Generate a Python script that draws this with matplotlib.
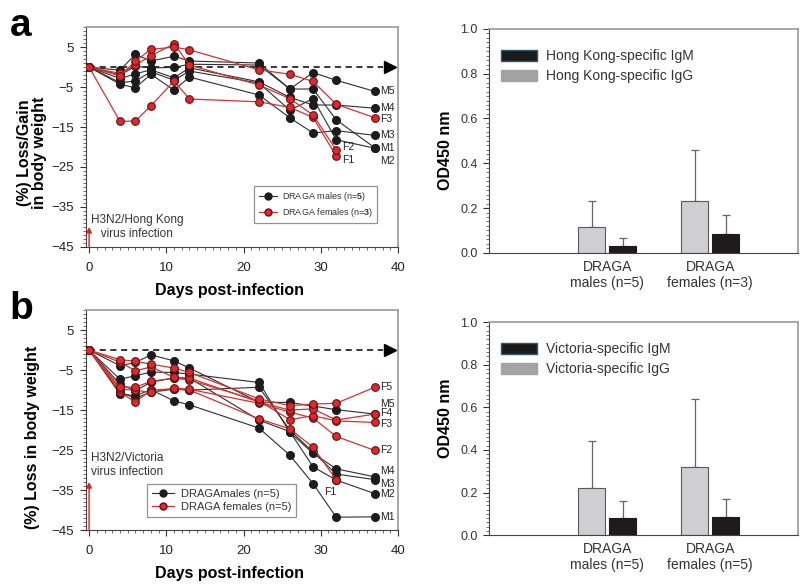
import numpy as np
import matplotlib
matplotlib.use("Agg")
import matplotlib.pyplot as plt
from matplotlib.patches import Patch
from matplotlib.lines import Line2D
from matplotlib.ticker import MultipleLocator

plt.rcParams['font.family'] = ['Liberation Sans', 'DejaVu Sans']
plt.rcParams['mathtext.fontset'] = 'custom'
plt.rcParams['mathtext.bf'] = 'Liberation Sans:bold'
plt.rcParams['mathtext.rm'] = 'Liberation Sans'

days = [0, 4, 6, 8, 11, 13, 22, 26, 29, 32, 37]
nan = np.nan

# panel a: H3N2/Hong Kong, % loss/gain in body weight
hk_males = {
    "M1": [0, -2.0, 0.2, -0.2, -0.1, 0.7, 0.5, -5.5, -5.5, -13.2, -20.2],
    "M2": [0, -3.9, -3.5, -1.2, -3.3, -1.0, -4.0, -10.8, -7.9, -18.2, -20.3],
    "M3": [0, -4.3, -5.2, -1.8, -5.8, -2.5, -7.0, -12.7, -16.5, -15.9, -17.1],
    "M4": [0, -2.9, -1.7, -0.7, -2.7, -0.2, -3.7, -7.6, -9.5, -9.5, -10.3],
    "M5": [0, -0.8, 3.2, 1.5, 2.7, 1.5, 1.0, -5.5, -1.4, -3.3, -6.1],
}
hk_females = {
    "F1": [0, -13.6, -13.5, -9.7, -3.5, -8.0, -8.7, -10.1, -12.6, -22.3, nan],
    "F2": [0, -1.6, 0.5, 2.8, 5.8, 0.5, -4.5, -7.9, -12.0, -20.7, nan],
    "F3": [0, -2.2, 1.5, 4.4, 5.0, 4.3, -0.7, -1.8, -3.6, -9.3, -12.7],
}

# panel b: H3N2/Victoria, % loss in body weight
vic_males = {
    "M1": [0, -11.0, -11.4, -9.9, -12.7, -13.7, -19.5, -26.3, -33.4, -41.8, -41.7],
    "M2": [0, -8.5, -10.2, -8.0, -7.0, -7.0, -17.5, -20.4, -29.2, -32.5, -35.9],
    "M3": [0, -10.5, -12.0, -10.5, -9.8, -10.0, -9.3, -20.0, -25.5, -31.0, -32.4],
    "M4": [0, -7.3, -6.4, -5.5, -5.6, -6.0, -8.1, -20.6, -25.8, -29.7, -31.7],
    "M5": [0, -3.9, -3.1, -1.2, -2.7, -4.5, -13.0, -13.1, -14.0, -14.9, -16.0],
}
vic_females = {
    "F1": [0, -10.5, -13.0, -10.0, -9.7, -10.0, -17.2, -19.7, -24.3, -32.4, nan],
    "F2": [0, -9.8, -10.0, -10.6, -9.5, -9.8, -13.3, -15.5, -17.0, -21.6, -25.1],
    "F3": [0, -9.2, -9.3, -7.8, -7.0, -7.5, -12.7, -17.4, -16.4, -17.7, -18.1],
    "F4": [0, -3.0, -5.2, -4.2, -6.8, -7.0, -13.0, -15.0, -14.7, -17.5, -16.0],
    "F5": [0, -2.4, -2.8, -3.5, -4.5, -5.6, -12.2, -13.9, -13.5, -13.3, -9.3],
}

# label offsets (points) for the end-of-line tags
hk_tag_offsets = {"M1": (4, 0), "M2": (4, -9), "M3": (4, 0), "M4": (4, 0), "M5": (4, 0),
                  "F1": (4, -3), "F2": (4, 2), "F3": (4, -1)}
vic_tag_offsets = {"M1": (4, 0), "M2": (4, 0), "M3": (4, -3), "M4": (4, 4), "M5": (4, 7),
                   "F1": (-4, -9), "F2": (4, 0), "F3": (4, -1), "F4": (4, 0.5), "F5": (4, 0)}

# ELISA bars
groups_a = ["DRAGA\nmales (n=5)", "DRAGA\nfemales (n=3)"]
hk_igg = [0.115, 0.23]
hk_igg_err = [0.115, 0.23]
hk_igm = [0.03, 0.085]
hk_igm_err = [0.035, 0.085]

groups_b = ["DRAGA\nmales (n=5)", "DRAGA\nfemales (n=5)"]
vic_igg = [0.22, 0.32]
vic_igg_err = [0.22, 0.32]
vic_igm = [0.08, 0.085]
vic_igm_err = [0.08, 0.085]

BLACK_LINE = "#2e2e2e"
RED_LINE = "#d8302f"
RED_FACE = "#e2272c"
RED_EDGE = "#5a1414"


def last_valid(vals):
    arr = np.array(vals, dtype=float)
    i = np.where(~np.isnan(arr))[0][-1]
    return days[i], arr[i]


def weight_panel(ax, males, females, tag_offsets, ylabel, note, arrow_top,
                 leg_labels, leg_anchor, leg_fs):
    for name, v in males.items():
        ax.plot(days, v, color=BLACK_LINE, lw=0.8, marker='o', ms=5.5,
                mfc="#1c1c1c", mec="#1c1c1c", zorder=3)
    for name, v in females.items():
        ax.plot(days, v, color=RED_LINE, lw=0.9, marker='o', ms=5.5,
                mfc=RED_FACE, mec=RED_EDGE, mew=0.8, zorder=4)
    for d in (males, females):
        for name, v in d.items():
            x, y = last_valid(v)
            dx, dy = tag_offsets[name]
            ax.annotate(name, (x, y), xytext=(dx, dy), textcoords='offset points',
                        ha='left' if dx > 0 else 'center', va='center',
                        fontsize=7.5, color='#222222')

    # baseline dashed arrow
    ax.plot([0, 38.0], [0, 0], color='black', lw=1.1, ls=(0, (4, 3)), zorder=2)
    ax.plot([38.9], [0], marker='>', ms=9, color='black', clip_on=False, zorder=2)

    # infection arrow
    ax.annotate('', xy=(0, arrow_top), xytext=(0, -45),
                arrowprops=dict(arrowstyle='-|>', color='#e02020', lw=1.0,
                                mutation_scale=8, shrinkA=0, shrinkB=0))
    ax.text(*note[0], note[1], fontsize=8.5, color='#333333', va='center',
            ha='left', linespacing=1.25)

    ax.set_xlim(-0.4, 40)
    ax.set_ylim(-45, 10)
    ax.set_xticks([0, 10, 20, 30, 40])
    ax.set_yticks([5, -5, -15, -25, -35, -45])
    ax.xaxis.set_minor_locator(MultipleLocator(1))
    ax.yaxis.set_minor_locator(MultipleLocator(1))
    ax.tick_params(which='major', direction='out', length=4, width=0.8,
                   labelsize=9.5, pad=5, colors='#333333')
    ax.tick_params(axis='x', which='major', pad=7)
    ax.tick_params(which='minor', direction='out', length=2, width=0.6,
                   colors='#555555')
    ax.tick_params(labelcolor='#222222')
    for s in ('left', 'bottom'):
        ax.spines[s].set_color('#444444')
    for s in ('top', 'right'):
        ax.spines[s].set_color('#9a9a9a')
        ax.spines[s].set_linewidth(1.2)
    ax.set_xlabel('Days post-infection', fontsize=11.5, fontweight='bold')
    ax.xaxis.set_label_coords(0.46, -0.165)
    ax.set_ylabel(ylabel, fontsize=11.5, fontweight='bold', linespacing=1.0)

    handles = [
        Line2D([], [], color=BLACK_LINE, lw=0.8, marker='o', ms=5,
               mfc='#1c1c1c', mec='#1c1c1c'),
        Line2D([], [], color=RED_LINE, lw=0.9, marker='o', ms=5,
               mfc=RED_FACE, mec=RED_EDGE),
    ]
    leg = ax.legend(handles, leg_labels, loc='lower left', bbox_to_anchor=leg_anchor,
                    fontsize=leg_fs, frameon=True, fancybox=False,
                    handlelength=2.0, borderpad=0.45, labelspacing=0.25,
                    handletextpad=0.6, borderaxespad=0)
    leg.get_frame().set_edgecolor('#777777')
    leg.get_frame().set_linewidth(0.9)
    for t in leg.get_texts():
        t.set_color('#333333')


def elisa_panel(ax, groups, igg, igg_err, igm, igm_err, leg_labels):
    x = np.arange(1, len(groups) + 1)
    w = 0.26
    ax.bar(x - 0.15, igg, w, color='#cfcfd2', edgecolor='#5a5a5a', lw=0.8, zorder=2)
    ax.bar(x + 0.15, igm, w, color='#1e1b1c', edgecolor='#1e1b1c', lw=0.8, zorder=2)
    ax.errorbar(x - 0.15, igg, yerr=[np.zeros(len(igg)), igg_err], fmt='none',
                ecolor='#666666', elinewidth=0.9, capsize=3, capthick=0.9, zorder=1)
    ax.errorbar(x + 0.15, igm, yerr=[np.zeros(len(igm)), igm_err], fmt='none',
                ecolor='#666666', elinewidth=0.9, capsize=3, capthick=0.9, zorder=1)
    ax.set_xlim(-0.15, 2.85)
    ax.set_ylim(0, 1.0)
    ax.set_xticks(x)
    ax.set_xticklabels(groups, fontsize=10, color='#333333', linespacing=1.2)
    ax.tick_params(axis='x', length=0, pad=5)
    ax.set_yticks(np.arange(0, 1.01, 0.2))
    ax.set_yticklabels([f"{v:.1f}" for v in np.arange(0, 1.01, 0.2)])
    ax.yaxis.set_minor_locator(MultipleLocator(0.02))
    ax.tick_params(axis='y', which='major', direction='out', length=4, width=0.8,
                   labelsize=9, colors='#333333', pad=4)
    ax.tick_params(axis='y', which='minor', direction='out', length=2, width=0.6,
                   colors='#555555')
    ax.spines['left'].set_color('#444444')
    ax.spines['bottom'].set_color('#444444')
    for s in ('top', 'right'):
        ax.spines[s].set_color('#9a9a9a')
        ax.spines[s].set_linewidth(1.2)
    ax.set_ylabel('OD450 nm', fontsize=11.5, fontweight='bold')
    handles = [Patch(facecolor='#1b1b1b', edgecolor='#2f5876', lw=1.0),
               Patch(facecolor='#a3a3a3', edgecolor='#a3a3a3')]
    leg = ax.legend(handles, leg_labels, loc='upper left', bbox_to_anchor=(0.0, 0.965),
                    frameon=False, fontsize=10, handlelength=2.6, handleheight=0.9,
                    labelspacing=0.45, handletextpad=0.6)
    for t in leg.get_texts():
        t.set_color('#333333')


fig = plt.figure(figsize=(8, 5.88), dpi=100)

ax_a = fig.add_axes([0.1075, 0.580, 0.39, 0.374])
ax_b = fig.add_axes([0.1075, 0.0986, 0.39, 0.374])
ax_ab = fig.add_axes([0.611, 0.570, 0.386, 0.381])
ax_bb = fig.add_axes([0.611, 0.090, 0.386, 0.362])

weight_panel(ax_a, hk_males, hk_females, hk_tag_offsets,
             '(%) Loss/Gain\nin body weight',
             ((0.2, -40.0), 'H3N2/Hong Kong\n   virus infection'), -40.0,
             ['DRAGA males (n=$\\mathbf{5}$)', 'DRAGA females (n=$\\mathbf{3}$)'],
             (0.54, 0.11), 6.5)
weight_panel(ax_b, vic_males, vic_females, vic_tag_offsets,
             '(%) Loss in body weight',
             ((0.2, -28.8), 'H3N2/Victoria\nvirus infection'), -33,
             ['DRAGAmales (n=5)', 'DRAGA females (n=5)'],
             (0.195, 0.06), 8)
ax_a.yaxis.set_label_coords(-0.125, 0.43)
ax_b.yaxis.set_label_coords(-0.147, 0.42)

elisa_panel(ax_ab, groups_a, hk_igg, hk_igg_err, hk_igm, hk_igm_err,
            ['Hong Kong-specific IgM', 'Hong Kong-specific IgG'])
elisa_panel(ax_bb, groups_b, vic_igg, vic_igg_err, vic_igm, vic_igm_err,
            ['Victoria-specific IgM', 'Victoria-specific IgG'])
ax_ab.yaxis.set_label_coords(-0.115, 0.46)
ax_bb.yaxis.set_label_coords(-0.115, 0.55)

fig.text(0.012, 0.955, 'a', fontsize=28, fontweight='bold', va='center')
fig.text(0.012, 0.475, 'b', fontsize=28, fontweight='bold', va='center')

fig.savefig('out.png', dpi=100)
